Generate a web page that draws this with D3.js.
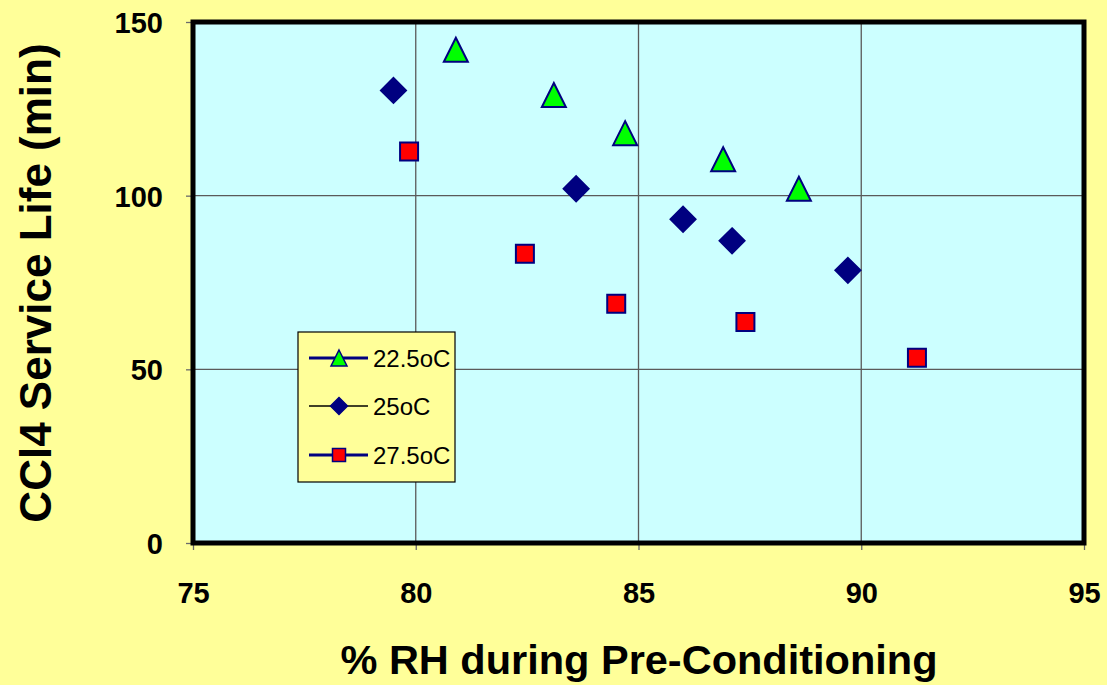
<!DOCTYPE html>
<html>
<head>
<meta charset="utf-8">
<script src="https://cdn.jsdelivr.net/npm/d3@7"></script>
<style>
body { margin: 0; background: #FFFF99; }
svg { display: block; font-family: Arial, "Liberation Sans", sans-serif; }
</style>
</head>
<body>
<svg id="chart" width="1107" height="685"></svg>
<script>
// series
var rh_225 = [80.9, 83.1, 84.7, 86.9, 88.6];
var life_225 = [142, 129, 118, 110.5, 102];
var rh_25 = [79.5, 83.6, 86.0, 87.1, 89.7];
var life_25 = [130.3, 102, 93.2, 87, 78.5];
var rh_275 = [79.85, 82.45, 84.5, 87.4, 91.25];
var life_275 = [112.7, 83.3, 68.9, 63.6, 53.3];
var seriesnames = ["22.5oC", "25oC", "27.5oC"];
var xticks = [75, 80, 85, 90, 95];
var yticks = [0, 50, 100, 150];

var svg = d3.select("#chart");
var x0 = 193, x1 = 1084, y0 = 543, y1 = 22;
var x = d3.scaleLinear().domain([75, 95]).range([x0, x1]);
var y = d3.scaleLinear().domain([0, 150]).range([y0, y1]);

svg.append("rect").attr("x", x0).attr("y", y1).attr("width", x1-x0).attr("height", y0-y1)
    .attr("fill", "#CCFFFF");

// gridlines
svg.append("g").selectAll("line").data(xticks.slice(1, -1)).enter().append("line")
    .attr("x1", d => x(d)).attr("x2", d => x(d)).attr("y1", y1).attr("y2", y0)
    .attr("stroke", "#5a5a5a").attr("stroke-width", 1.3);
svg.append("g").selectAll("line").data(yticks.slice(1, -1)).enter().append("line")
    .attr("y1", d => y(d)).attr("y2", d => y(d)).attr("x1", x0).attr("x2", x1)
    .attr("stroke", "#5a5a5a").attr("stroke-width", 1.3);

// axes
var xaxis = svg.append("g").attr("transform", "translate(0," + y0 + ")")
    .call(d3.axisBottom(x).tickValues(xticks).tickSize(7));
var yaxis = svg.append("g").attr("transform", "translate(" + x0 + ",0)")
    .call(d3.axisLeft(y).tickValues(yticks).tickSize(7).tickPadding(23));
[xaxis, yaxis].forEach(function(a) {
    a.select(".domain").remove();
    a.selectAll(".tick line").attr("stroke", "#6b6b6b").attr("stroke-width", 1.3);
    a.selectAll(".tick text").attr("fill", "#000").style("font-size", "29px")
        .style("font-weight", "bold").style("font-family", "Arial, 'Liberation Sans', sans-serif");
});
xaxis.selectAll(".tick text").attr("y", 60).attr("dy", 0);
yaxis.selectAll(".tick text").attr("dy", "0.36em");

// plot frame
svg.append("rect").attr("x", x0).attr("y", y1).attr("width", x1-x0).attr("height", y0-y1)
    .attr("fill", "none").attr("stroke", "#000").attr("stroke-width", 5);

// marker shapes, centred on their bounding box like the spreadsheet's
function triangle(w) { var h = w/2; return "M0," + (-h) + "L" + h + "," + h + "L" + (-h) + "," + h + "Z"; }
function diamond(w) { var h = w/2; return "M0," + (-h) + "L" + h + ",0L0," + h + "L" + (-h) + ",0Z"; }
function square(w) { var h = w/2; return "M" + (-h) + "," + (-h) + "h" + w + "v" + w + "h" + (-w) + "Z"; }

function drawseries(xs, ys, shape, fill, cls) {
    svg.append("g").selectAll("path").data(xs).enter().append("path")
        .attr("class", cls)
        .attr("d", shape)
        .attr("transform", (d, i) => "translate(" + x(d) + "," + y(ys[i]) + ")")
        .attr("fill", fill).attr("stroke", "#000080").attr("stroke-width", 2)
        .attr("stroke-linejoin", "miter");
}
drawseries(rh_225, life_225, triangle(24), "#00FF00", "tri");
drawseries(rh_25, life_25, diamond(25), "#000080", "dia");
drawseries(rh_275, life_275, square(18), "#FF0000", "sqr");

// legend
var lx = 298, ly = 332;
svg.append("rect").attr("x", lx).attr("y", ly).attr("width", 157).attr("height", 150)
    .attr("fill", "#FFFF99").attr("stroke", "#000").attr("stroke-width", 1.2);
var legshapes = [triangle(16), diamond(17), square(13)];
var legfills = ["#00FF00", "#000080", "#FF0000"];
var legline = [["#000080", 3], ["#000", 1.3], ["#000080", 3]];
var legy = [358, 406, 455];
seriesnames.forEach(function(nm, i) {
    svg.append("line").attr("x1", lx + 11).attr("x2", lx + 70).attr("y1", legy[i]).attr("y2", legy[i])
        .attr("stroke", legline[i][0]).attr("stroke-width", legline[i][1]);
    svg.append("path").attr("d", legshapes[i])
        .attr("transform", "translate(" + (lx + 41) + "," + legy[i] + ")")
        .attr("fill", legfills[i]).attr("stroke", "#000080").attr("stroke-width", 1.5);
    svg.append("text").attr("x", lx + 75).attr("y", legy[i]).attr("dy", "0.36em")
        .style("font-size", "24px").text(nm);
});

// axis titles
svg.append("text").attr("x", 639).attr("y", 674).attr("text-anchor", "middle")
    .style("font-size", "41.5px").style("font-weight", "bold").text("% RH during Pre-Conditioning");
svg.append("text").attr("transform", "translate(51,283) rotate(-90)").attr("text-anchor", "middle")
    .style("font-size", "44px").style("font-weight", "bold").text("CCl4 Service Life (min)");
</script>
</body>
</html>
